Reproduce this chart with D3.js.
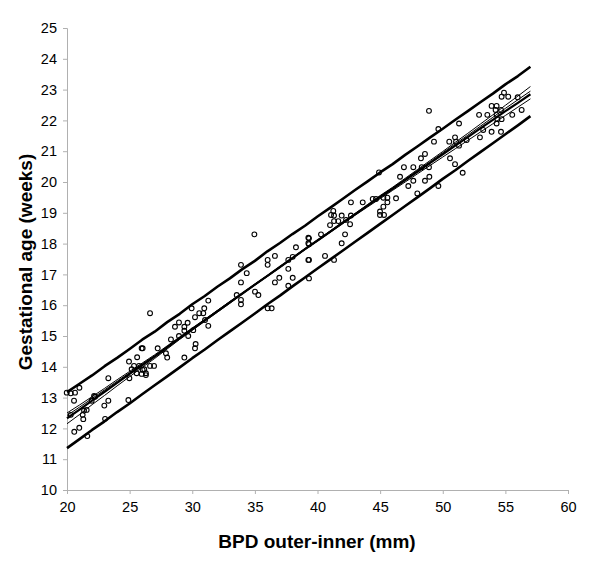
<!DOCTYPE html>
<html lang="en">
<head>
    <meta charset="UTF-8">
    <title>Gestational age vs BPD</title>
    <script src="https://d3js.org/d3.v7.min.js"></script>
    <style>
        body {margin: 0; background: #fff;}
        text {font-family: "Liberation Sans", Arial, sans-serif;}
    </style>
</head>
<body>
<script>
    // BPD outer-inner (mm) grid used for the fitted curves
    const bpd = [20, 21, 22, 23, 24, 25, 26, 27, 28, 29, 30, 31, 32, 33, 34, 35, 36, 37, 38,
        39, 40, 41, 42, 43, 44, 45, 46, 47, 48, 49, 50, 51, 52, 53, 54, 55, 56, 57];

    const fitMean = [12.33, 12.61, 12.90, 13.19, 13.48, 13.77, 14.05, 14.33, 14.63, 14.93, 15.22, 15.51,
        15.80, 16.09, 16.38, 16.67, 16.95, 17.24, 17.53, 17.82, 18.10, 18.38, 18.67, 18.95, 19.23, 19.51,
        19.78, 20.06, 20.34, 20.62, 20.90, 21.18, 21.46, 21.74, 22.02, 22.30, 22.57, 22.85];
    const upperLimit = [13.18, 13.45, 13.72, 14.02, 14.29, 14.58, 14.88, 15.14, 15.45, 15.72, 16.03, 16.30,
        16.60, 16.87, 17.17, 17.44, 17.75, 18.02, 18.31, 18.58, 18.88, 19.16, 19.45, 19.74, 20.02, 20.31,
        20.58, 20.88, 21.16, 21.45, 21.73, 22.02, 22.30, 22.59, 22.87, 23.17, 23.44, 23.74];
    const lowerLimit = [11.36, 11.65, 11.95, 12.23, 12.53, 12.81, 13.11, 13.40, 13.69, 13.98, 14.28, 14.56,
        14.86, 15.15, 15.44, 15.73, 16.03, 16.31, 16.61, 16.90, 17.19, 17.48, 17.77, 18.06, 18.35, 18.64,
        18.93, 19.22, 19.51, 19.80, 20.10, 20.38, 20.68, 20.97, 21.26, 21.55, 21.84, 22.14];
    const ciUpper = [12.50, 12.76, 13.03, 13.30, 13.58, 13.85, 14.12, 14.39, 14.68, 14.97, 15.26, 15.54,
        15.83, 16.12, 16.40, 16.69, 16.97, 17.26, 17.55, 17.84, 18.12, 18.41, 18.70, 18.98, 19.27, 19.56,
        19.83, 20.12, 20.41, 20.70, 20.99, 21.29, 21.58, 21.88, 22.18, 22.49, 22.79, 23.10];
    const ciMid = [12.42, 12.69, 12.97, 13.25, 13.53, 13.81, 14.09, 14.36, 14.66, 14.95, 15.24, 15.53,
        15.82, 16.11, 16.39, 16.68, 16.96, 17.25, 17.54, 17.83, 18.11, 18.40, 18.68, 18.97, 19.25, 19.54,
        19.81, 20.09, 20.38, 20.66, 20.95, 21.24, 21.52, 21.81, 22.10, 22.39, 22.67, 22.95];
    const ciLower = [12.15, 12.45, 12.77, 13.07, 13.38, 13.68, 13.98, 14.27, 14.58, 14.89, 15.18, 15.48,
        15.77, 16.06, 16.36, 16.65, 16.93, 17.22, 17.51, 17.80, 18.08, 18.36, 18.64, 18.92, 19.19, 19.46,
        19.73, 20.00, 20.27, 20.54, 20.81, 21.08, 21.35, 21.62, 21.89, 22.16, 22.43, 22.70];

    // observations: BPD (mm) and gestational age (weeks)
    const obsBpd = [19.98, 20.3, 20.64, 20.99, 20.56, 23.3, 24.95, 25.96, 25.6, 25.35, 25.16, 25.75, 26.17,
        26.3, 25.96, 25.56, 24.98, 22.24, 21.97, 23.3, 22.98, 21.36, 21.57, 21.25, 21.3, 20.98, 20.58, 21.62,
        24.9, 23.04, 20.3, 22.16,
        26.63, 31.28, 29.95, 30.56, 30.96, 30.88, 30.22, 31.02, 31.28, 29.63, 28.94, 28.62, 29.37, 29.37,
        30.08, 29.68, 28.94, 28.3, 30.27, 30.22, 27.24, 26.04, 27.9, 28.0, 29.37, 26.63, 26.95, 26.04, 26.3,
        34.96, 39.27, 39.27, 38.28, 38.02, 37.67, 39.27, 36.6, 36.02, 36.02, 33.89, 34.35, 37.67, 36.95,
        36.6, 38.02, 37.67, 33.89, 35.01, 35.28, 33.55, 33.89, 33.89, 36.02, 36.34,
        44.91, 42.67, 43.61, 44.41, 44.67, 45.26, 45.58, 45.58, 45.26, 44.99, 44.99, 45.31, 41.26, 41.08,
        41.32, 41.93, 42.67, 41.32, 41.66, 41.0, 42.6, 42.28, 40.28, 39.32, 39.32, 42.2, 41.93, 40.6, 41.32,
        39.32, 39.32,
        48.9, 51.3, 49.65, 49.3, 50.52, 50.98, 51.06, 51.3, 48.58, 48.26, 50.58, 50.98, 51.59, 46.9, 47.65,
        48.32, 48.9, 46.59, 47.65, 48.93, 48.58, 47.25, 49.65, 47.97, 46.27,
        54.89, 54.7, 55.23, 55.98, 53.9, 54.3, 54.22, 54.65, 56.3, 52.9, 53.56, 54.3, 55.55, 54.36, 54.7,
        54.3, 53.23, 53.9, 54.65, 52.97, 51.91];
    const obsAge = [13.16, 13.14, 13.16, 13.32, 12.9, 13.63, 14.17, 14.6, 14.31, 14.03, 13.92, 14.03, 13.92,
        13.79, 13.77, 13.79, 13.63, 13.03, 12.9, 12.9, 12.74, 12.58, 12.6, 12.44, 12.3, 12.02, 11.89, 11.75,
        12.92, 12.31, 12.44, 13.05,
        15.74, 16.15, 15.9, 15.74, 15.9, 15.74, 15.61, 15.52, 15.33, 15.43, 15.44, 15.3, 15.3, 15.17,
        15.19, 15.0, 15.0, 14.89, 14.74, 14.6, 14.6, 14.6, 14.44, 14.3, 14.3, 14.03, 14.03, 13.9, 13.73,
        18.3, 18.19, 18.01, 17.88, 17.57, 17.47, 17.47, 17.6, 17.47, 17.31, 17.31, 17.04, 17.18, 16.89,
        16.74, 16.89, 16.63, 16.74, 16.44, 16.33, 16.33, 16.17, 16.03, 15.9, 15.9,
        20.31, 19.34, 19.34, 19.45, 19.45, 19.49, 19.49, 19.34, 19.2, 19.04, 18.93, 18.93, 19.06, 18.93,
        18.91, 18.91, 18.91, 18.73, 18.73, 18.6, 18.63, 18.77, 18.3, 18.17, 17.98, 18.3, 18.01, 17.6, 17.47,
        17.47, 16.87,
        22.31, 21.9, 21.72, 21.31, 21.31, 21.45, 21.31, 21.18, 20.91, 20.77, 20.77, 20.58, 20.3, 20.48, 20.48,
        20.48, 20.48, 20.17, 20.04, 20.17, 20.04, 19.87, 19.87, 19.63, 19.47,
        22.9, 22.77, 22.77, 22.75, 22.47, 22.47, 22.34, 22.34, 22.34, 22.18, 22.18, 22.18, 22.18, 22.04, 22.04,
        21.9, 21.69, 21.63, 21.63, 21.45, 21.36];

    const xTicks = [20, 25, 30, 35, 40, 45, 50, 55, 60];
    const yTicks = [10, 11, 12, 13, 14, 15, 16, 17, 18, 19, 20, 21, 22, 23, 24, 25];

    const width = 600;
    const height = 573;
    const margin = {left: 67, right: 32, top: 28, bottom: 83};

    const svg = d3.select("body").append("svg")
            .attr("width", width).attr("height", height);

    const x = d3.scaleLinear().domain([20, 60]).range([margin.left, width - margin.right]);
    const y = d3.scaleLinear().domain([10, 25]).range([height - margin.bottom, margin.top]);

    // axes
    const xAxis = svg.append("g")
            .attr("transform", `translate(0,${height - margin.bottom})`)
            .call(d3.axisBottom(x).tickValues(xTicks).tickSize(4).tickPadding(8));
    const yAxis = svg.append("g")
            .attr("transform", `translate(${margin.left},0)`)
            .call(d3.axisLeft(y).tickValues(yTicks).tickSize(4).tickPadding(6));

    [xAxis, yAxis].forEach(ax => {
        ax.selectAll("path, line").attr("stroke", "#b0b0b0").attr("stroke-width", 1);
        ax.selectAll("text")
                .style("font-size", "14.5px")
                .attr("fill", "#000");
    });

    // curves
    const line = d3.line()
            .x((d, i) => x(bpd[i]))
            .y(d => y(d));

    const curves = [
        {values: upperLimit, w: 2.6},
        {values: lowerLimit, w: 2.6},
        {values: ciUpper, w: 1},
        {values: ciMid, w: 1},
        {values: ciLower, w: 1},
        {values: fitMean, w: 2.2}
    ];
    svg.selectAll("path.curve")
            .data(curves)
            .enter()
            .append("path")
            .attr("class", "curve")
            .attr("d", d => line(d.values))
            .style("fill", "none")
            .style("stroke", "#000")
            .style("stroke-width", d => d.w)
            .style("stroke-linejoin", "round");

    // observations
    svg.selectAll("circle.obs")
            .data(obsBpd)
            .enter()
            .append("circle")
            .attr("class", "obs")
            .attr("cx", d => x(d))
            .attr("cy", (d, i) => y(obsAge[i]))
            .attr("r", 2.4)
            .style("fill", "none")
            .style("stroke", "#000")
            .style("stroke-width", 1.1);

    // titles
    svg.append("text")
            .attr("x", 317)
            .attr("y", 548)
            .attr("text-anchor", "middle")
            .style("font-size", "19px")
            .style("font-weight", "bold")
            .text("BPD outer-inner (mm)");

    svg.append("text")
            .attr("transform", `translate(32,262) rotate(-90)`)
            .attr("text-anchor", "middle")
            .style("font-size", "19px")
            .style("font-weight", "bold")
            .text("Gestational age (weeks)");
</script>

</body>
</html>
